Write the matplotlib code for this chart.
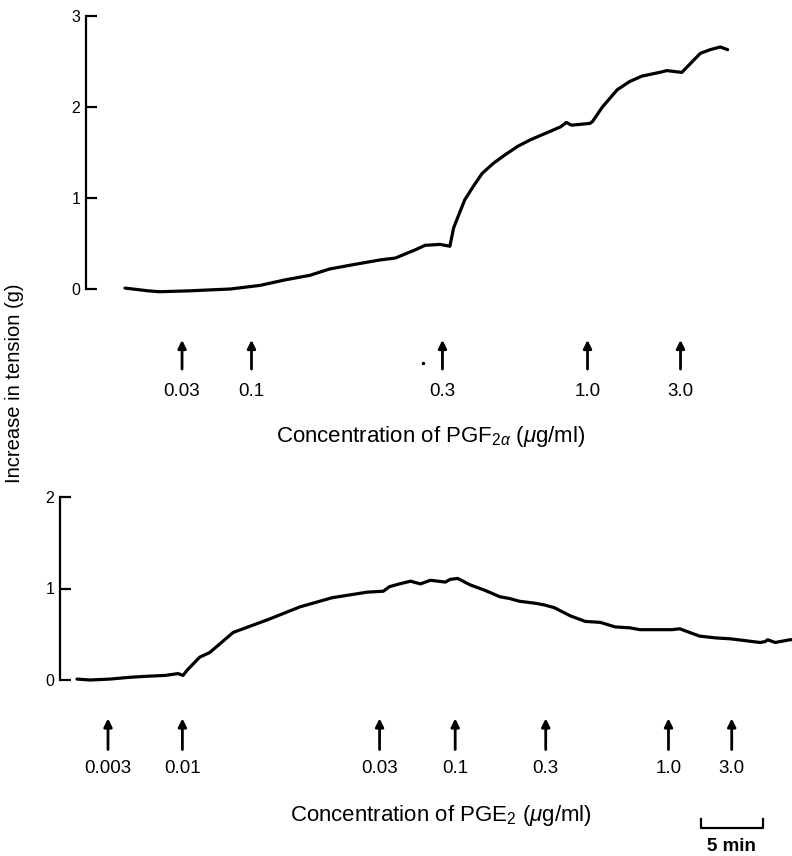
import numpy as np
import matplotlib
matplotlib.use('Agg')
import matplotlib.pyplot as plt

plt.rcParams['font.family'] = ['Liberation Sans', 'DejaVu Sans']
plt.rcParams['mathtext.fontset'] = 'custom'
plt.rcParams['mathtext.rm'] = 'Liberation Sans'
plt.rcParams['mathtext.it'] = 'Liberation Sans:italic'

# --- top trace: PGF2a, time (min) vs increase in tension (g)
t_f = [0, 1.85, 2.8, 5.2, 8.5, 10.9, 12.9, 14.9, 16.5, 18.5, 20.6, 21.8, 23.4, 24.2,
       25.4, 26.2, 26.5, 26.9, 27.4, 28.1, 28.8, 29.7, 30.6, 31.7, 32.7, 33.9, 35.1,
       35.6, 36.0, 37.5, 37.7, 38.5, 39.7, 40.7, 41.7, 43.1, 43.7, 44.9, 46.4, 47.2,
       48.0, 48.6]
g_f = [0.01, -0.02, -0.03, -0.02, 0.0, 0.04, 0.10, 0.15, 0.22, 0.27, 0.32, 0.34, 0.43,
       0.48, 0.49, 0.47, 0.67, 0.81, 0.98, 1.13, 1.27, 1.38, 1.47, 1.57, 1.64, 1.71,
       1.78, 1.83, 1.80, 1.82, 1.84, 2.00, 2.19, 2.28, 2.34, 2.38, 2.40, 2.38, 2.59,
       2.63, 2.66, 2.63]
dose_t_f = [4.6, 10.2, 25.6, 37.3, 44.8]
dose_lab_f = ['0.03', '0.1', '0.3', '1.0', '3.0']

# --- bottom trace: PGE2
t_e = [0, 1.05, 2.65, 4.3, 5.5, 7.1, 8.15, 8.55, 8.9, 9.9, 10.7, 12.6, 15.4, 18.0,
       20.6, 23.4, 24.7, 25.2, 26.0, 26.9, 27.7, 28.5, 29.7, 30.1, 30.7, 31.7, 32.9,
       34.1, 34.9, 35.7, 36.9, 37.7, 38.5, 39.8, 41.0, 42.2, 43.4, 44.6, 45.4, 46.6,
       47.4, 48.0, 48.6, 49.4, 50.2, 51.5, 52.7, 53.9, 55.1, 55.5, 55.7, 56.3, 57.5,
       57.66]
g_e = [0.01, 0.0, 0.01, 0.03, 0.04, 0.05, 0.07, 0.05, 0.11, 0.25, 0.30, 0.52, 0.66,
       0.80, 0.90, 0.96, 0.97, 1.02, 1.05, 1.08, 1.05, 1.09, 1.07, 1.10, 1.11, 1.04,
       0.98, 0.91, 0.89, 0.86, 0.84, 0.82, 0.79, 0.70, 0.64, 0.63, 0.58, 0.57, 0.55,
       0.55, 0.55, 0.55, 0.56, 0.52, 0.48, 0.46, 0.45, 0.43, 0.41, 0.42, 0.44, 0.41,
       0.44, 0.44]
dose_t_e = [2.5, 8.5, 24.4, 30.5, 37.8, 47.7, 52.8]
dose_lab_e = ['0.003', '0.01', '0.03', '0.1', '0.3', '1.0', '3.0']

W, H = 792, 856
fig = plt.figure(figsize=(W/100, H/100), dpi=100)

def make_ax(left_px, top_px, bot_px, ymax, t0_px):
    ax = fig.add_axes([left_px/W, 1-bot_px/H, 1-left_px/W, (bot_px-top_px)/H])
    ax.set_xlim((left_px-t0_px)/12.4, (W-t0_px)/12.4)
    ax.set_ylim(0, ymax)
    for s in ['top', 'right', 'bottom']:
        ax.spines[s].set_visible(False)
    ax.spines['left'].set_linewidth(1.6)
    ax.set_xticks([])
    ax.set_yticks(range(ymax+1))
    ax.tick_params(axis='y', direction='in', length=8, width=1.6, labelsize=11.5, pad=4)
    return ax

def arrows(ax, times, labels, y_tail, y_head, y_lab):
    for t, lab in zip(times, labels):
        ax.annotate('', xy=(t, y_head), xytext=(t, y_tail), annotation_clip=False,
                    arrowprops=dict(arrowstyle='-|>', lw=2, color='k', mutation_scale=12,
                                    shrinkA=0, shrinkB=0))
        ax.text(t, y_lab, lab, ha='center', va='center', fontsize=13.5, clip_on=False)

ax1 = make_ax(86, 16, 289, 3, 125)
ax1.plot(t_f, g_f, color='k', lw=2.3, clip_on=False, solid_capstyle='round',
         solid_joinstyle='round')
arrows(ax1, dose_t_f, dose_lab_f, -0.88, -0.56, -1.13)
ax1.plot([24.0], [-0.81], 'k.', ms=3, clip_on=False)

ax2 = make_ax(60, 497, 680, 2, 77)
ax2.plot(t_e, g_e, color='k', lw=2.3, clip_on=False, solid_capstyle='round',
         solid_joinstyle='round')
arrows(ax2, dose_t_e, dose_lab_e, -0.76, -0.42, -0.97)

# scale bar 5 min
sb_x0, sb_y = 50.3, -1.615
ax2.plot([sb_x0, sb_x0, sb_x0+5, sb_x0+5], [sb_y+0.1, sb_y, sb_y, sb_y+0.1],
         color='k', lw=1.6, clip_on=False)
ax2.text(sb_x0+2.5, sb_y-0.2, '5 min', ha='center', va='center', fontsize=13.5,
         fontweight='bold', clip_on=False)

fig.text(431/W, 1-437/H, r'Concentration of PGF$_{2\alpha}$ ($\mu$g/ml)',
         ha='center', va='center', fontsize=16)
fig.text(441/W, 1-815/H, r'Concentration of PGE$_2$ ($\mu$g/ml)',
         ha='center', va='center', fontsize=16)
fig.text(15/W, 1-383/H, 'Increase in tension (g)', rotation=90,
         ha='center', va='center', fontsize=14.5)

plt.savefig('out.png', dpi=100)
